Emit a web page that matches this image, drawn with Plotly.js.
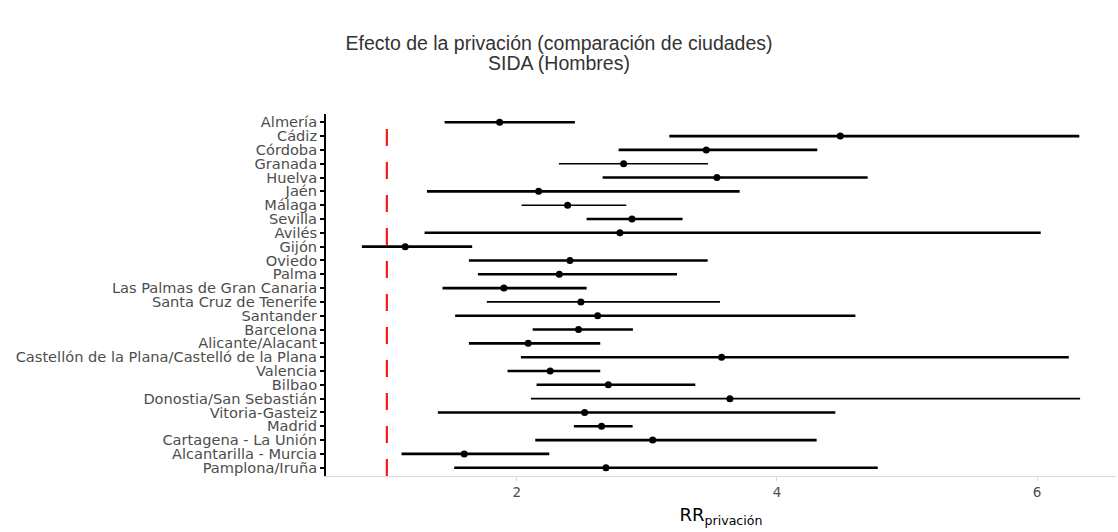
<!DOCTYPE html>
<html>
<head>
<meta charset="utf-8">
<script src="https://cdn.plot.ly/plotly-3.0.1.min.js"></script>
<style>html,body{margin:0;padding:0;background:#fff;}#chart{width:1118px;height:532px;}</style>
</head>
<body>
<div id="chart"></div>
<script>
// ---- data (top to bottom as in the chart) ----
const cities = [
  "Almería", "Cádiz", "Córdoba", "Granada", "Huelva", "Jaén", "Málaga", "Sevilla",
  "Avilés", "Gijón", "Oviedo", "Palma", "Las Palmas de Gran Canaria",
  "Santa Cruz de Tenerife", "Santander", "Barcelona", "Alicante/Alacant",
  "Castellón de la Plana/Castelló de la Plana", "Valencia", "Bilbao",
  "Donostia/San Sebastián", "Vitoria-Gasteiz", "Madrid", "Cartagena - La Unión",
  "Alcantarilla - Murcia", "Pamplona/Iruña"
];
const rrEstimate = [1.867, 4.487, 3.456, 2.821, 3.538, 2.167, 2.390, 2.885,
  2.792, 1.141, 2.408, 2.326, 1.900, 2.492, 2.621, 2.474, 2.087,
  3.574, 2.256, 2.703, 3.638, 2.521, 2.651, 3.044, 1.595, 2.685];
const rrLower = [1.444, 3.172, 2.782, 2.323, 2.659, 1.308, 2.036, 2.536,
  1.290, 0.808, 1.631, 1.700, 1.428, 1.769, 1.525, 2.121, 1.631,
  2.031, 1.928, 2.151, 2.108, 1.392, 2.438, 2.141, 1.113, 1.518];
const rrUpper = [2.446, 6.325, 4.310, 3.469, 4.697, 3.713, 2.841, 3.274,
  6.028, 1.656, 3.467, 3.231, 2.536, 3.562, 4.603, 2.892, 2.641,
  6.244, 2.641, 3.372, 6.331, 4.449, 2.890, 4.305, 2.249, 4.775];
const referenceRR = 1;
const xTickValues = [2, 4, 6];
const xTickLabels = ["2", "4", "6"];
const titleText = "Efecto de la privación (comparación de ciudades)";
const subtitleText = "SIDA (Hombres)";

// ---- style config (kept separate from the data) ----
const thinRows = new Set(["Granada", "Málaga", "Santa Cruz de Tenerife", "Donostia/San Sebastián"]);
const labelFont = "DejaVu Sans, Verdana, sans-serif";
const titleFont = {family: "Liberation Sans, Arial, sans-serif", size: 19.5, color: "#333333"};

const traces = [];
cities.forEach((c, i) => {
  traces.push({
    type: "scatter", mode: "lines",
    x: [rrLower[i], rrUpper[i]], y: [c, c],
    line: {color: "#000000", width: thinRows.has(c) ? 1.6 : 2.6},
    showlegend: false, hoverinfo: "skip"
  });
});
traces.push({
  type: "scatter", mode: "markers",
  x: rrEstimate, y: cities,
  marker: {color: "#000000", size: 7},
  showlegend: false,
  hovertemplate: "%{y}: %{x}<extra></extra>"
});

const layout = {
  width: 1118, height: 532,
  paper_bgcolor: "#ffffff", plot_bgcolor: "#ffffff",
  margin: {l: 326, r: 2, t: 114, b: 56},
  title: {
    text: titleText,
    x: 0.5, xanchor: "center", y: 1 - 43 / 532, yanchor: "middle",
    font: titleFont
  },
  annotations: [{
    text: subtitleText, xref: "paper", yref: "paper",
    x: (559 - 326) / 790, xanchor: "center",
    y: (476 - 63) / 362, yanchor: "middle",
    showarrow: false, font: titleFont
  }],
  xaxis: {
    range: [0.532, 6.607],
    tickmode: "array", tickvals: xTickValues, ticktext: xTickLabels,
    showgrid: false, zeroline: false,
    showline: true, linecolor: "#d9d9d9", linewidth: 1,
    ticks: "outside", ticklen: 4, tickcolor: "#d9d9d9", tickwidth: 1,
    tickfont: {family: labelFont, size: 13.5, color: "#4d4d4d"},
    title: {text: "RR<sub>privación</sub>", standoff: 9,
      font: {family: labelFont, size: 18, color: "#000000"}}
  },
  yaxis: {
    type: "category", categoryorder: "array",
    categoryarray: cities.slice().reverse(),
    tickmode: "array", tickvals: cities, ticktext: cities,
    range: [-0.6, cities.length - 0.4],
    showgrid: false, zeroline: false,
    showline: true, linecolor: "#000000", linewidth: 2,
    ticks: "outside", ticklen: 4, tickcolor: "#000000", tickwidth: 1.5,
    tickfont: {family: labelFont, size: 14.6, color: "#4d4d4d"}
  },
  shapes: [{
    type: "line", xref: "x", yref: "paper",
    x0: referenceRR, x1: referenceRR, y0: 0, y1: 1,
    line: {color: "#ff1a1a", width: 2.2, dash: "17px,16px"}
  }]
};

Plotly.newPlot("chart", traces, layout, {displayModeBar: false});
</script>
</body>
</html>
